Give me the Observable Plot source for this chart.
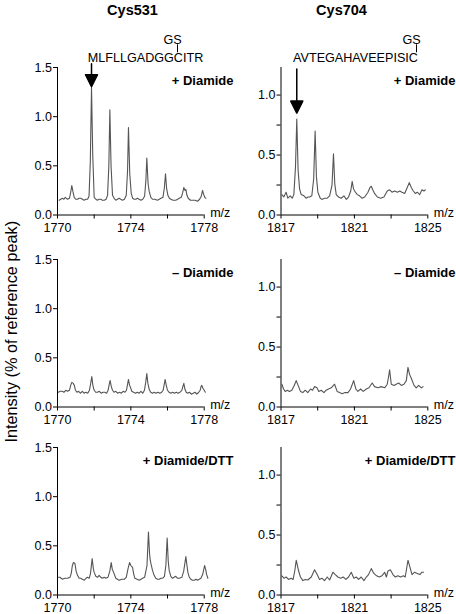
<!DOCTYPE html>
<html>
<head>
<meta charset="utf-8">
<script src="https://cdn.jsdelivr.net/npm/d3@7"></script>
<script src="https://cdn.jsdelivr.net/npm/@observablehq/plot@0.6"></script>
<style>
  html, body { margin: 0; padding: 0; background: white; }
  #chart { position: relative; width: 456px; height: 614px; overflow: hidden; }
  #chart svg { position: absolute; }
</style>
</head>
<body>
<div id="chart"></div>
<script>
// ---------- data (m/z, intensity as % of reference peak) ----------
const titles = ["Cys531", "Cys704"];
const peptides = ["MLFLLGADGGCITR", "AVTEGAHAVEEPISIC"];
const conditions = ["+ Diamide", "\u2013 Diamide", "+ Diamide/DTT"];
const xTicks531 = [1770, 1772, 1774, 1776, 1778];
const xLabels531 = [1770, 1774, 1778];
const xTicks704 = [1817, 1819, 1821, 1823, 1825];
const xLabels704 = [1817, 1821, 1825];
const yTicks531 = [0, 0.5, 1.0, 1.5];
const yLabels531 = [0, 0.5, 1.0, 1.5];
const yTicks704 = [0, 0.25, 0.5, 0.75, 1.0];
const yLabels704 = [0, 0.5, 1.0];

const cys531Diamide = [[1770.09,0.15],[1770.18,0.16],[1770.27,0.17],[1770.35,0.16],[1770.42,0.18],[1770.55,0.16],[1770.65,0.17],[1770.72,0.23],[1770.78,0.3],[1770.84,0.24],[1770.91,0.18],[1771.0,0.16],[1771.09,0.16],[1771.18,0.17],[1771.27,0.17],[1771.36,0.16],[1771.45,0.15],[1771.55,0.16],[1771.64,0.16],[1771.72,0.19],[1771.79,0.55],[1771.855,1.3],[1771.92,0.62],[1772.0,0.18],[1772.09,0.16],[1772.18,0.15],[1772.27,0.16],[1772.36,0.16],[1772.45,0.15],[1772.55,0.15],[1772.65,0.16],[1772.73,0.2],[1772.8,0.5],[1772.855,1.07],[1772.92,0.5],[1773.0,0.2],[1773.09,0.17],[1773.18,0.15],[1773.27,0.16],[1773.36,0.17],[1773.45,0.16],[1773.55,0.15],[1773.65,0.16],[1773.75,0.2],[1773.82,0.45],[1773.87,0.89],[1773.94,0.42],[1774.02,0.22],[1774.1,0.17],[1774.18,0.16],[1774.27,0.16],[1774.36,0.17],[1774.45,0.16],[1774.55,0.15],[1774.65,0.16],[1774.75,0.19],[1774.82,0.35],[1774.87,0.58],[1774.94,0.32],[1775.0,0.24],[1775.09,0.18],[1775.18,0.16],[1775.3,0.16],[1775.45,0.15],[1775.55,0.16],[1775.64,0.17],[1775.75,0.18],[1775.83,0.28],[1775.89,0.42],[1775.95,0.27],[1776.02,0.2],[1776.1,0.17],[1776.18,0.16],[1776.3,0.15],[1776.45,0.15],[1776.55,0.16],[1776.64,0.17],[1776.75,0.18],[1776.83,0.23],[1776.89,0.28],[1776.95,0.25],[1777.0,0.26],[1777.06,0.2],[1777.13,0.17],[1777.25,0.15],[1777.36,0.15],[1777.5,0.15],[1777.64,0.14],[1777.75,0.16],[1777.84,0.19],[1777.91,0.25],[1777.97,0.21],[1778.03,0.18],[1778.09,0.17]];

const cys531NoDiamide = [[1770.05,0.15],[1770.15,0.16],[1770.25,0.16],[1770.35,0.15],[1770.45,0.17],[1770.55,0.16],[1770.65,0.17],[1770.72,0.22],[1770.78,0.25],[1770.86,0.24],[1770.92,0.22],[1770.98,0.17],[1771.06,0.15],[1771.15,0.16],[1771.25,0.14],[1771.35,0.16],[1771.45,0.14],[1771.55,0.15],[1771.65,0.14],[1771.74,0.17],[1771.81,0.24],[1771.87,0.31],[1771.93,0.22],[1772.0,0.17],[1772.08,0.15],[1772.18,0.15],[1772.28,0.16],[1772.38,0.14],[1772.48,0.15],[1772.58,0.15],[1772.68,0.14],[1772.76,0.17],[1772.82,0.23],[1772.87,0.27],[1772.93,0.21],[1773.0,0.17],[1773.08,0.15],[1773.18,0.16],[1773.28,0.14],[1773.38,0.15],[1773.48,0.14],[1773.58,0.16],[1773.68,0.15],[1773.76,0.17],[1773.82,0.23],[1773.87,0.28],[1773.93,0.22],[1773.98,0.2],[1774.05,0.16],[1774.15,0.15],[1774.25,0.14],[1774.35,0.15],[1774.45,0.14],[1774.55,0.16],[1774.65,0.14],[1774.74,0.17],[1774.81,0.25],[1774.87,0.34],[1774.93,0.24],[1775.0,0.18],[1775.08,0.15],[1775.18,0.14],[1775.28,0.15],[1775.38,0.14],[1775.48,0.15],[1775.58,0.14],[1775.68,0.15],[1775.76,0.17],[1775.82,0.23],[1775.87,0.28],[1775.93,0.22],[1776.0,0.17],[1776.08,0.15],[1776.18,0.14],[1776.28,0.15],[1776.38,0.14],[1776.48,0.15],[1776.58,0.14],[1776.68,0.15],[1776.78,0.17],[1776.84,0.21],[1776.89,0.24],[1776.95,0.18],[1777.02,0.15],[1777.1,0.14],[1777.2,0.15],[1777.3,0.13],[1777.4,0.14],[1777.5,0.15],[1777.6,0.13],[1777.7,0.15],[1777.78,0.17],[1777.83,0.21],[1777.87,0.22],[1777.93,0.19],[1778.0,0.17],[1778.06,0.15]];

const cys531DiamideDTT = [[1770.05,0.18],[1770.13,0.18],[1770.27,0.16],[1770.4,0.17],[1770.55,0.17],[1770.68,0.18],[1770.75,0.22],[1770.81,0.3],[1770.87,0.33],[1770.95,0.32],[1771.02,0.24],[1771.09,0.2],[1771.18,0.17],[1771.27,0.17],[1771.36,0.16],[1771.46,0.15],[1771.55,0.17],[1771.64,0.18],[1771.73,0.17],[1771.8,0.22],[1771.89,0.37],[1771.96,0.26],[1772.0,0.23],[1772.09,0.19],[1772.18,0.18],[1772.27,0.2],[1772.36,0.18],[1772.45,0.17],[1772.55,0.18],[1772.64,0.17],[1772.75,0.18],[1772.85,0.24],[1772.93,0.33],[1772.99,0.26],[1773.06,0.23],[1773.18,0.17],[1773.27,0.16],[1773.36,0.15],[1773.5,0.16],[1773.64,0.16],[1773.75,0.18],[1773.85,0.27],[1773.93,0.33],[1774.0,0.3],[1774.09,0.28],[1774.16,0.21],[1774.22,0.17],[1774.34,0.16],[1774.46,0.15],[1774.55,0.16],[1774.64,0.17],[1774.75,0.18],[1774.88,0.3],[1774.96,0.64],[1775.02,0.42],[1775.06,0.35],[1775.12,0.3],[1775.18,0.25],[1775.27,0.2],[1775.36,0.17],[1775.45,0.16],[1775.55,0.16],[1775.64,0.17],[1775.73,0.17],[1775.83,0.19],[1775.91,0.3],[1775.98,0.58],[1776.04,0.34],[1776.09,0.25],[1776.18,0.19],[1776.27,0.17],[1776.36,0.18],[1776.45,0.19],[1776.55,0.17],[1776.64,0.17],[1776.78,0.18],[1776.88,0.24],[1777.0,0.39],[1777.06,0.3],[1777.11,0.23],[1777.19,0.18],[1777.27,0.16],[1777.36,0.15],[1777.46,0.15],[1777.55,0.16],[1777.64,0.15],[1777.73,0.16],[1777.82,0.17],[1777.92,0.21],[1778.02,0.3],[1778.08,0.26],[1778.13,0.21],[1778.2,0.17]];

const cys704Diamide = [[1817.05,0.17],[1817.15,0.15],[1817.28,0.19],[1817.37,0.14],[1817.5,0.16],[1817.61,0.14],[1817.7,0.17],[1817.79,0.4],[1817.86,0.8],[1817.93,0.38],[1818.01,0.22],[1818.1,0.17],[1818.25,0.16],[1818.37,0.14],[1818.47,0.15],[1818.56,0.15],[1818.68,0.16],[1818.78,0.3],[1818.86,0.7],[1818.93,0.32],[1819.01,0.19],[1819.14,0.14],[1819.23,0.13],[1819.37,0.14],[1819.52,0.14],[1819.65,0.16],[1819.78,0.25],[1819.86,0.51],[1819.93,0.26],[1820.01,0.17],[1820.14,0.15],[1820.28,0.14],[1820.43,0.16],[1820.56,0.13],[1820.68,0.15],[1820.8,0.2],[1820.88,0.28],[1820.95,0.22],[1821.01,0.2],[1821.16,0.17],[1821.28,0.16],[1821.41,0.14],[1821.56,0.15],[1821.74,0.19],[1821.85,0.23],[1821.92,0.24],[1822.0,0.21],[1822.1,0.18],[1822.25,0.15],[1822.43,0.14],[1822.61,0.15],[1822.79,0.2],[1822.92,0.21],[1823.05,0.19],[1823.19,0.2],[1823.34,0.19],[1823.47,0.2],[1823.59,0.19],[1823.74,0.18],[1823.88,0.23],[1823.99,0.27],[1824.1,0.23],[1824.21,0.2],[1824.32,0.18],[1824.43,0.19],[1824.56,0.17],[1824.68,0.21],[1824.79,0.2],[1824.87,0.21]];

const cys704NoDiamide = [[1817.05,0.19],[1817.14,0.15],[1817.23,0.13],[1817.34,0.14],[1817.46,0.13],[1817.59,0.14],[1817.72,0.18],[1817.83,0.22],[1817.96,0.17],[1818.06,0.13],[1818.19,0.12],[1818.32,0.14],[1818.46,0.12],[1818.61,0.15],[1818.72,0.14],[1818.83,0.17],[1818.96,0.16],[1819.06,0.13],[1819.19,0.14],[1819.34,0.12],[1819.46,0.14],[1819.59,0.15],[1819.74,0.16],[1819.92,0.19],[1820.06,0.13],[1820.19,0.12],[1820.34,0.11],[1820.46,0.12],[1820.65,0.12],[1820.79,0.15],[1820.96,0.22],[1821.08,0.15],[1821.19,0.13],[1821.34,0.15],[1821.48,0.13],[1821.65,0.15],[1821.79,0.16],[1821.97,0.2],[1822.1,0.17],[1822.28,0.16],[1822.46,0.17],[1822.65,0.16],[1822.79,0.19],[1822.86,0.25],[1822.92,0.31],[1823.01,0.19],[1823.16,0.18],[1823.28,0.19],[1823.41,0.2],[1823.56,0.18],[1823.7,0.19],[1823.83,0.22],[1823.92,0.33],[1824.01,0.27],[1824.1,0.24],[1824.25,0.18],[1824.37,0.16],[1824.5,0.18],[1824.65,0.16],[1824.74,0.17]];

const cys704DiamideDTT = [[1817.05,0.16],[1817.16,0.14],[1817.28,0.15],[1817.41,0.13],[1817.55,0.14],[1817.66,0.13],[1817.75,0.2],[1817.83,0.29],[1817.96,0.2],[1818.06,0.15],[1818.19,0.12],[1818.32,0.13],[1818.46,0.125],[1818.65,0.15],[1818.83,0.21],[1818.97,0.17],[1819.1,0.13],[1819.23,0.14],[1819.37,0.12],[1819.52,0.15],[1819.65,0.125],[1819.83,0.19],[1819.96,0.17],[1820.1,0.15],[1820.25,0.14],[1820.39,0.15],[1820.54,0.13],[1820.68,0.15],[1820.83,0.19],[1820.97,0.14],[1821.1,0.15],[1821.23,0.13],[1821.37,0.15],[1821.52,0.12],[1821.65,0.15],[1821.77,0.17],[1821.92,0.22],[1822.06,0.18],[1822.21,0.16],[1822.36,0.15],[1822.5,0.16],[1822.65,0.19],[1822.74,0.15],[1822.83,0.2],[1822.96,0.21],[1823.1,0.17],[1823.23,0.15],[1823.37,0.16],[1823.52,0.15],[1823.67,0.16],[1823.77,0.15],[1823.92,0.29],[1824.03,0.23],[1824.14,0.17],[1824.28,0.19],[1824.43,0.18],[1824.57,0.17],[1824.68,0.19],[1824.77,0.19]];

// ---------- layout ----------
const FONT = "Arial, 'Liberation Sans', Helvetica, sans-serif";
const PH = 147.5;           // plot frame height
const MT = 20, MB = 26;
const rowZero = [214.7, 406, 594.2]; // page y of intensity 0 for each row
const cols = [
  {left: 0, ml: 57, mr: 24.3, domain: [1770, 1778], xTicks: xTicks531, xLabels: xLabels531,
   yMax: 1.5, yTicks: yTicks531, yLabels: yLabels531, condDx: 29.3,
   arrowLen: 23, arrowDy: -0.5, pepDx: 88, gsDx: 115, linkPx: 177, titleDx: 75,
   series: [cys531Diamide, cys531NoDiamide, cys531DiamideDTT]},
  {left: 228, ml: 52.5, mr: 28.7, domain: [1817, 1825], xTicks: xTicks704, xLabels: xLabels704,
   yMax: 1.23, yTicks: yTicks704, yLabels: yLabels704, condDx: 27.7,
   arrowLen: 44, arrowDy: -6, pepDx: 74.5, gsDx: 130.5, linkPx: 416, titleDx: 60.5,
   series: [cys704Diamide, cys704NoDiamide, cys704DiamideDTT]}
];

const arrowShape = {
  draw(context, l) {
    const h = 12, w = 6;
    context.moveTo(0, 0);
    context.lineTo(0, -l + h);
    context.moveTo(-w, -l + h);
    context.lineTo(0, -l);
    context.lineTo(w, -l + h);
    context.closePath();
  }
};

const chart = document.getElementById("chart");
const fmt = d3.format(".1f");

cols.forEach((c, ci) => {
  const plotW = 228 - c.ml - c.mr;
  const ppu = PH / c.yMax;
  rowZero.forEach((y0, ri) => {
    const data = c.series[ri];
    const frameTop = y0 - PH;
    const marks = [
      Plot.ruleY([0], {stroke: "black", strokeWidth: 1}),
      Plot.ruleX([c.domain[0]], {y1: 0, y2: c.yMax, stroke: "black", strokeWidth: 1}),
      Plot.axisX(c.xTicks, {tickSize: 4, tickPadding: 4.5, label: null,
        tickFormat: d => c.xLabels.includes(d) ? String(d) : ""}),
      Plot.axisY(c.yTicks, {tickSize: 4, tickPadding: 1.5, label: null,
        tickFormat: d => c.yLabels.includes(d) ? fmt(d) : ""}),
      Plot.line(data, {x: d => d[0], y: d => d[1], stroke: "#555", strokeWidth: 1.1}),
      Plot.text(["m/z"], {frameAnchor: "bottom-right", textAnchor: "start", lineAnchor: "middle",
        dx: 6, dy: -2.5, fontSize: 12.5}),
      Plot.text([conditions[ri]], {frameAnchor: "top-right", textAnchor: "end", lineAnchor: "bottom",
        dx: c.condDx, dy: 17.5, fontSize: 13, fontWeight: "bold"})
    ];
    if (ri === 0) {
      const peak = d3.greatest(data, d => d[1]);
      const xAt = px => c.domain[0] + (px - (c.left + c.ml)) / plotW * (c.domain[1] - c.domain[0]);
      const yAt = py => (y0 - py) / ppu;
      marks.push(
        Plot.vector([peak], {x: d => d[0], y: d => d[1], length: c.arrowLen, rotate: 180,
          anchor: "end", shape: arrowShape, stroke: "black", fill: "black", strokeWidth: 1.5,
          dy: c.arrowDy}),
        Plot.text([peptides[ci]], {frameAnchor: "top-left", textAnchor: "middle", lineAnchor: "bottom",
          dx: c.pepDx, dy: 61.7 - frameTop, fontSize: 12.6}),
        Plot.text(["GS"], {frameAnchor: "top-left", textAnchor: "middle", lineAnchor: "bottom",
          dx: c.gsDx, dy: 43.3 - frameTop, fontSize: 12.6}),
        Plot.ruleX([xAt(c.linkPx)], {y1: yAt(44.5), y2: yAt(52.5), stroke: "black", strokeWidth: 1}),
        Plot.text([titles[ci]], {frameAnchor: "top-left", textAnchor: "middle", lineAnchor: "bottom",
          dx: c.titleDx, dy: 15 - frameTop, fontSize: 14.5, fontWeight: "bold"})
      );
    }
    if (ri === 1 && ci === 0) {
      marks.push(Plot.text(["Intensity (% of reference peak)"], {frameAnchor: "left", rotate: -90,
        textAnchor: "middle", lineAnchor: "bottom", dx: 16 - c.ml, dy: -1.5, fontSize: 16.3}));
    }
    const svg = Plot.plot({
      width: 228,
      height: PH + MT + MB,
      marginLeft: c.ml, marginRight: c.mr, marginTop: MT, marginBottom: MB,
      x: {domain: c.domain, label: null},
      y: {domain: [0, c.yMax], label: null},
      style: {fontFamily: FONT, fontSize: "12.5px", overflow: "visible",
              background: "transparent", color: "black"},
      marks
    });
    svg.style.left = c.left + "px";
    svg.style.top = (frameTop - MT) + "px";
    svg.style.maxWidth = "none";
    chart.appendChild(svg);
  });
});
</script>
</body>
</html>
